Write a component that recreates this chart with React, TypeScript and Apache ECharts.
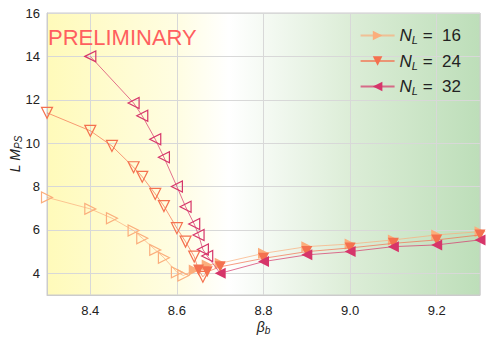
import React, { useEffect, useRef } from "react";
import * as echarts from "echarts";

// beta_b, L*M_PS, hollow(1)/filled(0)
const n16X = [8.30, 8.40, 8.45, 8.50, 8.52, 8.55, 8.57, 8.60, 8.615, 8.64, 8.67, 8.70, 8.80, 8.90, 9.00, 9.10, 9.20, 9.30];
const n16Y = [7.50, 6.97, 6.54, 5.97, 5.62, 5.08, 4.72, 4.05, 3.90, 4.15, 4.38, 4.46, 4.92, 5.23, 5.35, 5.54, 5.77, 5.92];
const n16H = [1, 1, 1, 1, 1, 1, 1, 1, 1, 0, 0, 0, 0, 0, 0, 0, 0, 0];

const n24X = [8.30, 8.40, 8.45, 8.50, 8.52, 8.55, 8.57, 8.60, 8.62, 8.64, 8.65, 8.66, 8.67, 8.70, 8.80, 8.90, 9.00, 9.10, 9.20, 9.30];
const n24Y = [11.40, 10.57, 9.87, 8.89, 8.45, 7.66, 7.10, 6.08, 5.46, 4.77, 4.15, 3.84, 4.07, 4.30, 4.69, 5.00, 5.17, 5.38, 5.54, 5.77];
const n24H = [1, 1, 1, 1, 1, 1, 1, 1, 1, 1, 0, 1, 0, 0, 0, 0, 0, 0, 0, 0];

const n32X = [8.40, 8.50, 8.52, 8.55, 8.57, 8.60, 8.62, 8.64, 8.65, 8.66, 8.67, 8.70, 8.80, 8.90, 9.00, 9.10, 9.20, 9.30];
const n32Y = [14.00, 11.85, 11.26, 10.18, 9.35, 8.00, 7.07, 6.27, 5.77, 5.10, 4.80, 4.00, 4.54, 4.85, 5.00, 5.23, 5.31, 5.54];
const n32H = [1, 1, 1, 1, 1, 1, 1, 1, 1, 1, 1, 0, 0, 0, 0, 0, 0, 0];

const seriesNames = ["16", "24", "32"];
const colors = ["#fbae7c", "#f4714f", "#d6356a"];
const rotations = [-90, 180, 90];

const FONT = "Liberation Sans";

function build(xs: number[], ys: number[], hs: number[], c: string) {
  return xs.map((x, i) => ({
    value: [x, ys[i]],
    itemStyle: hs[i]
      ? { color: "rgba(255,255,255,0)", borderColor: c, borderWidth: 1.2 }
      : { color: c, borderWidth: 0 },
  }));
}

export default function App() {
  const ref = useRef<HTMLDivElement>(null);
  useEffect(() => {
    if (!ref.current) return;
    document.body.style.margin = "0";
    const chart = echarts.init(ref.current, null, { renderer: "svg" });
    const datasets = [
      build(n16X, n16Y, n16H, colors[0]),
      build(n24X, n24Y, n24H, colors[1]),
      build(n32X, n32Y, n32H, colors[2]),
    ];
    chart.setOption({
      animation: false,
      textStyle: { fontFamily: FONT },
      grid: {
        left: 47,
        right: 8,
        top: 13,
        bottom: 47,
        outerBoundsMode: "none",
        containLabel: false,
        show: true,
        borderColor: "#cccccc",
        borderWidth: 1,
        backgroundColor: new echarts.graphic.LinearGradient(0, 0, 1, 0, [
          { offset: 0, color: "rgb(255,250,186)" },
          { offset: 0.3, color: "rgb(255,253,226)" },
          { offset: 0.42, color: "rgb(255,255,255)" },
          { offset: 0.7, color: "rgb(220,237,215)" },
          { offset: 1, color: "rgb(189,222,185)" },
        ]),
      },
      legend: {
        right: 22,
        top: 22,
        orient: "vertical",
        itemGap: 7,
        itemWidth: 34,
        itemHeight: 12,
        data: seriesNames,
        formatter: (n: string) => `{n|N}{s|L}{t| =  ${n}}`,
        textStyle: {
          fontFamily: FONT,
          color: "#222",
          fontSize: 16,
          rich: {
            n: { fontStyle: "italic", fontSize: 17, color: "#222", fontFamily: FONT },
            s: { fontStyle: "italic", fontSize: 11, color: "#222", fontFamily: FONT, padding: [9, 0, 0, 0] },
            t: { fontSize: 17, color: "#222", fontFamily: FONT },
          },
        },
      },
      xAxis: {
        type: "value",
        min: 8.3,
        max: 9.3,
        splitNumber: 5,
        name: "{b|β}{s|b}",
        nameLocation: "middle",
        nameGap: 23,
        nameMoveOverlap: false,
        nameTextStyle: {
          rich: {
            b: { fontStyle: "italic", fontSize: 14, color: "#222", fontFamily: FONT },
            s: { fontStyle: "italic", fontSize: 10, color: "#222", fontFamily: FONT, padding: [7, 0, 0, 0] },
          },
        },
        axisLine: { show: true, lineStyle: { color: "#cccccc" } },
        axisTick: { show: false },
        axisLabel: {
          color: "#222",
          fontSize: 13,
          margin: 9,
          fontFamily: FONT,
          showMinLabel: false,
          showMaxLabel: false,
          formatter: (v: number) => (Math.round(v * 10) / 10).toFixed(1),
        },
        splitLine: { show: true, lineStyle: { color: "#d8d8d8", width: 1 } },
      },
      yAxis: {
        type: "value",
        min: 3,
        max: 16,
        splitNumber: 6,
        name: "{a|L M}{s|PS}",
        nameLocation: "middle",
        nameRotate: 90,
        nameGap: 24,
        nameMoveOverlap: false,
        nameTextStyle: {
          rich: {
            a: { fontStyle: "italic", fontSize: 14, color: "#222", fontFamily: FONT },
            s: { fontStyle: "italic", fontSize: 10, color: "#222", fontFamily: FONT, padding: [7, 0, 0, 0] },
          },
        },
        axisLine: { show: true, lineStyle: { color: "#cccccc" } },
        axisTick: { show: false },
        axisLabel: { color: "#222", fontSize: 13, margin: 7, fontFamily: FONT, showMinLabel: false },
        splitLine: { show: true, lineStyle: { color: "#d8d8d8", width: 1 } },
      },
      graphic: [
        {
          type: "text",
          left: 48,
          top: 26,
          z: 10,
          style: { text: "PRELIMINARY", fill: "#ff5f5f", fontSize: 22, fontFamily: FONT },
        },
      ],
      series: datasets.map((d, i) => ({
        name: seriesNames[i],
        type: "line",
        data: d,
        symbol: "triangle",
        symbolSize: 11,
        symbolRotate: rotations[i],
        showAllSymbol: true,
        lineStyle: { color: colors[i], width: 1, opacity: 0.7 },
        itemStyle: { color: colors[i] },
        z: 3 + i,
      })),
    });
    return () => chart.dispose();
  }, []);
  return <div ref={ref} style={{ width: 488, height: 342 }} />;
}
